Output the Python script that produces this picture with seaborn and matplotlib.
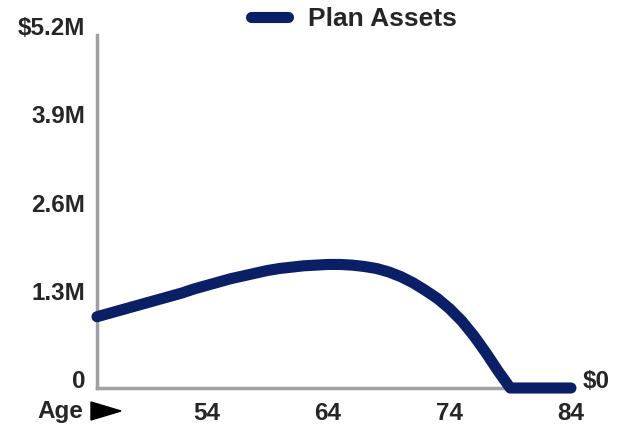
import matplotlib
matplotlib.use("Agg")
import matplotlib.pyplot as plt
from matplotlib.patches import Polygon
import seaborn as sns
import pandas as pd

ages = list(range(45, 85))
assets_m = [1.05, 1.10, 1.15, 1.20, 1.25, 1.30, 1.35, 1.40, 1.46, 1.51,
            1.56, 1.61, 1.65, 1.69, 1.73, 1.76, 1.78, 1.80, 1.81, 1.82,
            1.82, 1.81, 1.79, 1.76, 1.71, 1.64, 1.55, 1.44, 1.32, 1.17,
            0.99, 0.77, 0.52, 0.25, 0.0, 0.0, 0.0, 0.0, 0.0, 0.0]
y_ticks = [0, 1.3, 2.6, 3.9, 5.2]
y_tick_labels = ["0", "1.3M", "2.6M", "3.9M", "$5.2M"]
x_ticks = [54, 64, 74, 84]
series_name = "Plan Assets"

df = pd.DataFrame({"Age": ages, "Assets": assets_m, "Series": series_name})

sns.set_style("white")
plt.rcParams["font.family"] = ["Liberation Sans", "DejaVu Sans"]
plt.rcParams["font.weight"] = "bold"

W, H = 619, 425
fig = plt.figure(figsize=(W / 100, H / 100), dpi=100)
ax = fig.add_axes([97 / W, 37 / H, (571 - 97) / W, 353 / H])

navy = "#0b1f66"
gray = "#a0a0a4"
LW = 8.0
FS = 17.5
sns.lineplot(data=df, x="Age", y="Assets", hue="Series", palette=[navy],
             linewidth=LW, ax=ax, legend=False, clip_on=False,
             solid_capstyle="round", solid_joinstyle="round", zorder=5)

ax.set_xlim(45, 84)
ax.set_ylim(0, 5.2)
sns.despine(ax=ax)
for side in ("left", "bottom"):
    ax.spines[side].set_color(gray)
    ax.spines[side].set_linewidth(2.5)
ax.spines["bottom"].set_zorder(1)

ax.set_yticks(y_ticks)
ax.set_yticklabels(y_tick_labels)
ax.set_xticks(x_ticks)
ax.set_xticklabels([str(t) for t in x_ticks])
ax.tick_params(axis="both", length=0, labelsize=FS)
ax.tick_params(axis="y", pad=8.5)
ax.tick_params(axis="x", pad=23)
for lab in ax.get_yticklabels():
    lab.set_fontweight("bold")
    lab.set_va("baseline")
for lab in ax.get_xticklabels():
    lab.set_fontweight("bold")
    lab.set_va("baseline")
ax.set_xlabel("")
ax.set_ylabel("")

# Age label with arrow
fig.text(37 / W, 1 - 418 / H, "Age", fontsize=FS, fontweight="bold", ha="left", va="baseline")
tri = Polygon([[91 / W, 1 - 402 / H], [91 / W, 1 - 420 / H], [121 / W, 1 - 411 / H]],
              closed=True, transform=fig.transFigure, color="black")
fig.patches.append(tri)

# $0 end label
fig.text(583 / W, 1 - 388 / H, "$0", fontsize=FS, fontweight="bold", ha="left", va="baseline")

# legend
handle = plt.Line2D([], [], color=navy, linewidth=LW, solid_capstyle="round")
fig.legend([handle], [series_name], loc="center", bbox_to_anchor=(354 / W, 1 - 19 / H),
           frameon=False, handlelength=1.4, handletextpad=0.75,
           prop={"weight": "bold", "size": 19})

fig.savefig("out.png", dpi=100)
